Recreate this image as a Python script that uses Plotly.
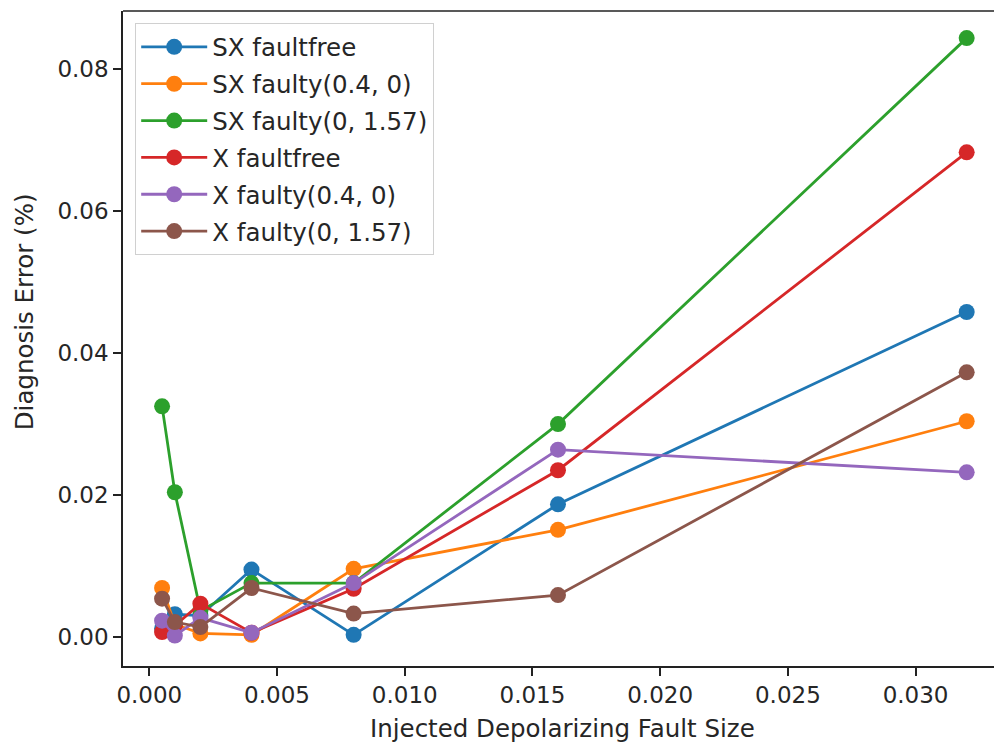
import plotly.graph_objects as go

x_vals = [0.0005, 0.001, 0.002, 0.004, 0.008, 0.016, 0.032]

sx_faultfree = [0.0012, 0.0032, 0.0030, 0.0095, 0.0003, 0.0187, 0.0458]
sx_faulty_04_0 = [0.0069, 0.0018, 0.0005, 0.0003, 0.0096, 0.0151, 0.0304]
sx_faulty_0_157 = [0.0325, 0.0204, 0.0037, 0.0076, 0.0076, 0.0300, 0.0844]
x_faultfree = [0.0007, 0.0016, 0.0047, 0.0006, 0.0068, 0.0235, 0.0683]
x_faulty_04_0 = [0.0023, 0.0002, 0.0027, 0.0006, 0.0076, 0.0264, 0.0232]
x_faulty_0_157 = [0.0054, 0.0021, 0.0014, 0.0069, 0.0033, 0.0059, 0.0373]

series = [
    ("SX faultfree", sx_faultfree, "#1f77b4"),
    ("SX faulty(0.4, 0)", sx_faulty_04_0, "#ff7f0e"),
    ("SX faulty(0, 1.57)", sx_faulty_0_157, "#2ca02c"),
    ("X faultfree", x_faultfree, "#d62728"),
    ("X faulty(0.4, 0)", x_faulty_04_0, "#9467bd"),
    ("X faulty(0, 1.57)", x_faulty_0_157, "#8c564b"),
]

x_ticks = [0.000, 0.005, 0.010, 0.015, 0.020, 0.025, 0.030]
y_ticks = [0.00, 0.02, 0.04, 0.06, 0.08]
x_title = "Injected Depolarizing Fault Size"
y_title = "Diagnosis Error (%)"

fig = go.Figure()
for i, (name, vals, color) in enumerate(series):
    fig.add_trace(go.Scatter(
        x=x_vals, y=vals, name=name, mode="lines+markers",
        line=dict(color=color, width=2.8),
        marker=dict(color=color, size=16),
        legendgroup=f"g{i}",
    ))

font = "DejaVu Sans"
fs_tick = 23
fs_text = 24.5
txt_font = dict(family=font, size=fs_text, color="#262626")
fig.update_layout(
    width=994, height=746,
    margin=dict(l=123, r=0, t=11, b=80, autoexpand=False),
    paper_bgcolor="white", plot_bgcolor="white",
    font=dict(family=font, size=fs_tick, color="#262626"),
    showlegend=True,
    legend=dict(
        x=0.014, y=0.981, xanchor="left", yanchor="top",
        bgcolor="rgba(255,255,255,0.8)", bordercolor="#d0d0d0", borderwidth=1,
        font=txt_font,
        tracegroupgap=2, itemwidth=66,
    ),
    xaxis=dict(
        range=[-0.00103, 0.03307],
        tickvals=x_ticks, ticktext=[f"{v:.3f}" for v in x_ticks],
        ticks="outside", ticklen=8, tickwidth=1.5, tickcolor="#222",
        tickfont=dict(family=font, size=fs_tick, color="#262626"),
        showline=True, linecolor="#222", linewidth=1.5,
        showgrid=False, zeroline=False, automargin=False,
    ),
    yaxis=dict(
        range=[-0.00409, 0.08822],
        tickvals=y_ticks, ticktext=[f"{v:.2f}" for v in y_ticks],
        ticks="outside", ticklen=8, tickwidth=1.5, tickcolor="#222",
        tickfont=dict(family=font, size=fs_tick, color="#262626"),
        showline=True, linecolor="#222", linewidth=1.5,
        showgrid=False, zeroline=False, automargin=False,
    ),
    shapes=[dict(type="line", xref="paper", yref="paper", x0=0, x1=1, y0=1, y1=1,
                 line=dict(color="#222", width=1.5))],
    annotations=[
        dict(text=x_title, xref="paper", yref="paper", x=0.505, y=-0.0951,
             xanchor="center", yanchor="middle", showarrow=False, font=txt_font),
        dict(text=y_title, xref="paper", yref="paper", x=-0.1131, y=0.5408,
             xanchor="center", yanchor="middle", textangle=-90, showarrow=False,
             font=txt_font),
    ],
)

fig.write_html("out.html", post_script="document.body.style.margin='0';",
               config={"displayModeBar": False})
